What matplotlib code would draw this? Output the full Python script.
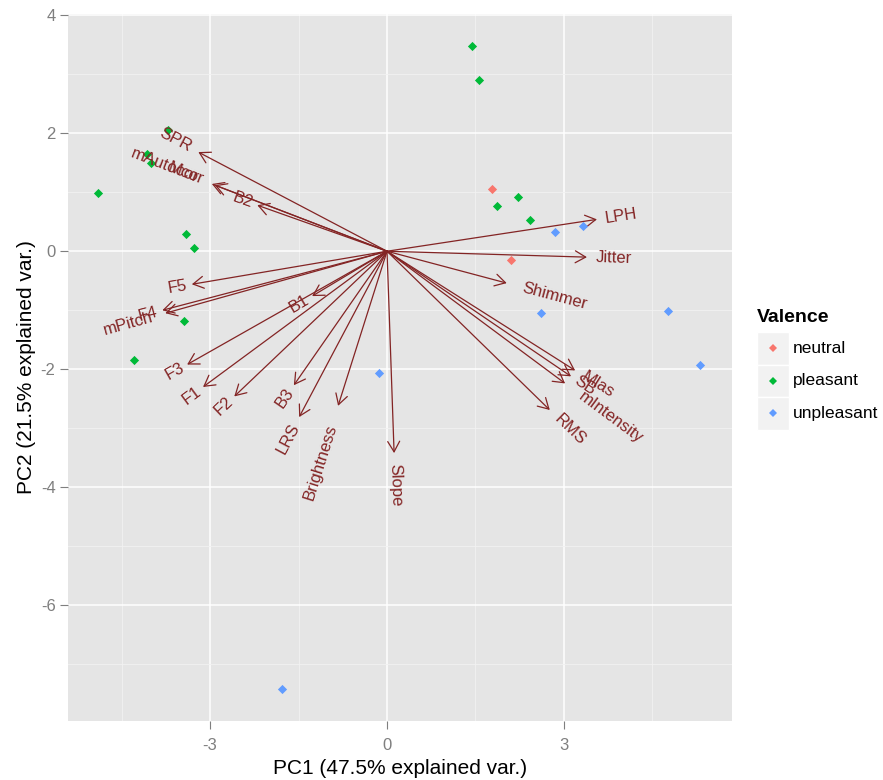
import matplotlib
matplotlib.use('Agg')
import matplotlib.pyplot as plt
import numpy as np
from matplotlib.patches import Rectangle
from matplotlib.lines import Line2D

plt.rcParams['font.family'] = ['Liberation Sans', 'DejaVu Sans']

# ---------------- data ----------------
groups = ['neutral', 'pleasant', 'unpleasant']
group_colors = ['#F8766D', '#00BA38', '#619CFF']

pc1 = [1.78, 2.10,
       1.44, 1.56, -3.71, -4.07, -4.00, -4.90, -3.41, -3.27, -3.44, -4.29, 2.22, 1.86, 2.42,
       2.85, 3.32, 2.61, 4.76, 5.31, -0.14, -1.78]
pc2 = [1.05, -0.14,
       3.47, 2.90, 2.05, 1.64, 1.49, 0.98, 0.29, 0.05, -1.19, -1.85, 0.92, 0.76, 0.53,
       0.32, 0.42, -1.05, -1.02, -1.92, -2.07, -7.42]
valence = ['neutral'] * 2 + ['pleasant'] * 13 + ['unpleasant'] * 7

var_names = ['LPH', 'Jitter', 'Shimmer', 'Mlas', 'SB', 'mIntensity', 'RMS', 'Slope',
             'Brightness', 'LRS', 'B3', 'B1', 'F2', 'F1', 'F3', 'F5', 'F4', 'mPitch',
             'SPR', 'mAutocor', 'Mcor', 'B2']
var_x = [3.56, 3.39, 2.03, 3.19, 3.12, 3.02, 2.76, 0.12,
         -0.83, -1.49, -1.58, -1.27, -2.59, -3.12, -3.39, -3.31, -3.81, -3.76,
         -3.20, -2.92, -2.97, -2.20]
var_y = [0.54, -0.10, -0.54, -2.02, -2.12, -2.24, -2.69, -3.42,
         -2.62, -2.81, -2.27, -0.76, -2.46, -2.30, -1.92, -0.56, -1.00, -1.05,
         1.68, 1.12, 1.14, 0.78]

x_label = 'PC1 (47.5% explained var.)'
y_label = 'PC2 (21.5% explained var.)'
legend_title = 'Valence'
x_ticks = [-3, 0, 3]
y_ticks = [-6, -4, -2, 0, 2, 4]

arrow_color = '#832424'

# ---------------- figure ----------------
W, H = 883, 780
fig = plt.figure(figsize=(W / 100, H / 100), dpi=100)
L, R, T, B = 68, 732, 14, 721
ax = fig.add_axes([L / W, 1 - B / H, (R - L) / W, (B - T) / H])
ax.set_facecolor('#E5E5E5')
ax.set_xlim(-5.41, 5.85)
ax.set_ylim(-7.96, 4.02)
for s in ax.spines.values():
    s.set_visible(False)

ax.set_xticks(x_ticks)
ax.set_yticks(y_ticks)
ax.set_xticklabels([str(v) for v in x_ticks])
ax.set_yticklabels([str(v) for v in y_ticks])
ax.set_xticks([-4.5, -1.5, 1.5, 4.5], minor=True)
ax.set_yticks([-7, -5, -3, -1, 1, 3], minor=True)
ax.grid(which='major', color='white', lw=1.1)
ax.grid(which='minor', color='#F2F2F2', lw=0.6)
ax.set_axisbelow(True)
ax.tick_params(which='major', length=6, width=0.8, color='#7F7F7F',
               labelcolor='#7F7F7F', labelsize=12, pad=3)
ax.tick_params(axis='x', which='major', pad=6)
ax.tick_params(which='minor', length=0)

# arrows
for name, x, y in zip(var_names, var_x, var_y):
    ax.annotate('', xy=(x, y), xytext=(0, 0),
                arrowprops=dict(arrowstyle='->,head_length=0.75,head_width=0.43',
                                color=arrow_color, lw=0.9, shrinkA=0, shrinkB=0,
                                mutation_scale=10),
                zorder=2)

# points
for g, c in zip(groups, group_colors):
    xs = [a for a, v in zip(pc1, valence) if v == g]
    ys = [b for b, v in zip(pc2, valence) if v == g]
    ax.scatter(xs, ys, marker='D', s=22, color=c, linewidths=0, zorder=3)

# variable labels
renderer = fig.canvas.get_renderer()
fs_var = 12
for name, x, y in zip(var_names, var_x, var_y):
    tmp = ax.text(0, 0, name, fontsize=fs_var)
    w_px = tmp.get_window_extent(renderer).width
    tmp.remove()
    ang = np.degrees(np.arctan(y / x))
    sgn = 1 if x > 0 else -1
    off = 0.25 * w_px * 72 / 100
    dx = sgn * off * np.cos(np.radians(ang))
    dy = sgn * off * np.sin(np.radians(ang))
    ax.annotate(name, xy=(x, y), xytext=(dx, dy), textcoords='offset points',
                rotation=ang, rotation_mode='anchor',
                ha='left' if x > 0 else 'right', va='center',
                fontsize=fs_var, color=arrow_color, zorder=4)

# axis titles
fig.text(400 / W, 1 - 768 / H, x_label, fontsize=15, ha='center', va='center')
fig.text(27 / W, 1 - 367 / H, y_label, fontsize=15, ha='center', va='center',
         rotation=90)

# legend
fig.text(757 / W, 1 - 318 / H, legend_title, fontsize=14, fontweight='bold',
         ha='left', va='center')
key_top = 332
key_h = 32.5
for i, (g, c) in enumerate(zip(groups, group_colors)):
    y0 = key_top + i * key_h
    fig.add_artist(Rectangle((757 / W, 1 - (y0 + key_h) / H), 32 / W, key_h / H,
                             transform=fig.transFigure, facecolor='#F2F2F2',
                             edgecolor='white', lw=1))
    cy = y0 + key_h / 2
    fig.add_artist(Line2D([773 / W], [1 - cy / H], transform=fig.transFigure,
                          marker='D', markersize=4.5, color=c, markeredgewidth=0,
                          linestyle='none'))
    fig.text(793 / W, 1 - cy / H, g, fontsize=12.5, ha='left', va='center')

fig.savefig('out.png', dpi=100)
